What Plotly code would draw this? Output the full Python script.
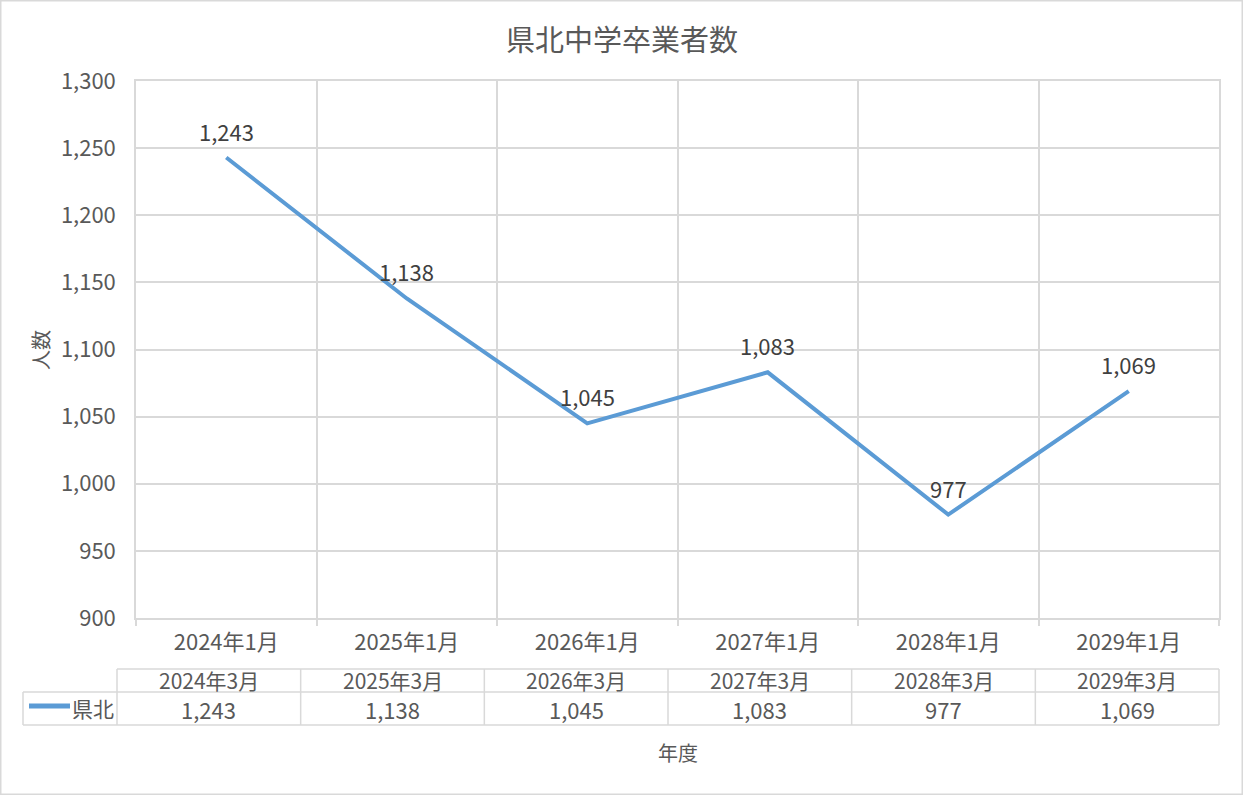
import plotly.graph_objects as go

categories = ["2024年1月", "2025年1月", "2026年1月", "2027年1月", "2028年1月", "2029年1月"]
table_headers = ["2024年3月", "2025年3月", "2026年3月", "2027年3月", "2028年3月", "2029年3月"]
series_name = "県北"
values = [1243, 1138, 1045, 1083, 977, 1069]
y_ticks = [900, 950, 1000, 1050, 1100, 1150, 1200, 1250, 1300]

title_text = "県北中学卒業者数"
y_title = "人数"
x_title = "年度"

W, H = 1243, 795
L, R, T, B = 136, 1219, 81, 618
FONT = "Noto Sans CJK JP, Noto Sans, sans-serif"
TXT = "#595959"
LBL = "#404040"
GRID = "#d9d9d9"
BLUE = "#5B9BD5"


def px(x):
    return (x - L) / (R - L)


def py(y):
    return (B - y) / (B - T)


fig = go.Figure()
fig.add_trace(go.Scatter(
    x=categories, y=values, mode="lines", name=series_name,
    line=dict(color=BLUE, width=4), hoverinfo="x+y", showlegend=False,
))

annotations = []
for c, v in zip(categories, values):
    annotations.append(dict(
        x=c, y=v, xref="x", yref="y", text=f"{v:,}", showarrow=False,
        yshift=27, font=dict(family=FONT, size=22, color=LBL),
    ))

shapes = []
# outer border
shapes.append(dict(type="rect", xref="paper", yref="paper",
                   x0=px(0.75), x1=px(W - 0.75), y0=py(H - 0.75), y1=py(0.75),
                   line=dict(color=GRID, width=1.5), fillcolor="rgba(0,0,0,0)", layer="below"))

# data table
tL, tLeg = 117, 23
tR = R
yh0, yh1, yv1 = 669, 692, 725
n = len(table_headers)
cw = (tR - tL) / n


def hline(x0, x1, y):
    shapes.append(dict(type="line", xref="paper", yref="paper",
                       x0=px(x0), x1=px(x1), y0=py(y), y1=py(y),
                       line=dict(color=GRID, width=1.5)))


def vline(x, y0, y1):
    shapes.append(dict(type="line", xref="paper", yref="paper",
                       x0=px(x), x1=px(x), y0=py(y0), y1=py(y1),
                       line=dict(color=GRID, width=1.5)))


hline(tL, tR, yh0)
hline(tLeg, tR, yh1)
hline(tLeg, tR, yv1)
vline(tLeg, yh1, yv1)
for i in range(n + 1):
    vline(tL + i * cw, yh0, yv1)

for i, (h, v) in enumerate(zip(table_headers, values)):
    cx = tL + (i + 0.5) * cw
    annotations.append(dict(x=px(cx), y=py((yh0 + yh1) / 2 - 1), xref="paper", yref="paper",
                            text=h, showarrow=False, xanchor="center", yanchor="middle",
                            font=dict(family=FONT, size=21, color=TXT)))
    annotations.append(dict(x=px(cx), y=py((yh1 + yv1) / 2), xref="paper", yref="paper",
                            text=f"{v:,}", showarrow=False, xanchor="center", yanchor="middle",
                            font=dict(family=FONT, size=22, color=TXT)))

# legend key in table
shapes.append(dict(type="line", xref="paper", yref="paper",
                   x0=px(29), x1=px(70), y0=py(706), y1=py(706),
                   line=dict(color=BLUE, width=5)))
annotations.append(dict(x=px(116), y=py(708), xref="paper", yref="paper", text=series_name,
                        showarrow=False, xanchor="right", yanchor="middle",
                        font=dict(family=FONT, size=21, color=TXT)))

# axis titles
annotations.append(dict(x=px(40), y=py(350), xref="paper", yref="paper", text=y_title,
                        showarrow=False, textangle=-90, xanchor="center", yanchor="middle",
                        font=dict(family=FONT, size=20, color=TXT)))
annotations.append(dict(x=px(678), y=py(752), xref="paper", yref="paper", text=x_title,
                        showarrow=False, xanchor="center", yanchor="middle",
                        font=dict(family=FONT, size=20, color=TXT)))
# title
annotations.append(dict(x=px(622), y=py(38), xref="paper", yref="paper", text=title_text,
                        showarrow=False, xanchor="center", yanchor="middle",
                        font=dict(family=FONT, size=29, color=TXT)))

fig.update_layout(
    width=W, height=H,
    margin=dict(l=L, r=W - R, t=T, b=H - B),
    paper_bgcolor="white", plot_bgcolor="white",
    shapes=shapes, annotations=annotations,
    font=dict(family=FONT, color=TXT),
)
fig.update_xaxes(
    type="category", tickson="boundaries", showgrid=True, gridcolor=GRID, gridwidth=1.5,
    ticks="outside", ticklen=6, tickcolor=GRID, tickwidth=1.5,
    showline=True, linecolor=GRID, linewidth=1.5, mirror=True,
    tickfont=dict(family=FONT, size=22, color=TXT), ticklabelstandoff=4,
    range=[-0.5, len(categories) - 0.5], fixedrange=True,
)
fig.update_yaxes(
    range=[900, 1300], tickvals=y_ticks, ticktext=[f"{t:,}" for t in y_ticks],
    showgrid=True, gridcolor=GRID, gridwidth=1.5, zeroline=False,
    showline=True, linecolor=GRID, linewidth=1.5, mirror=True,
    tickfont=dict(family=FONT, size=22, color=TXT), ticklabelstandoff=14, fixedrange=True,
)

fig.write_html(
    "out.html",
    config={"displayModeBar": False},
    post_script="document.body.style.margin='0';document.body.style.overflow='hidden';",
)
